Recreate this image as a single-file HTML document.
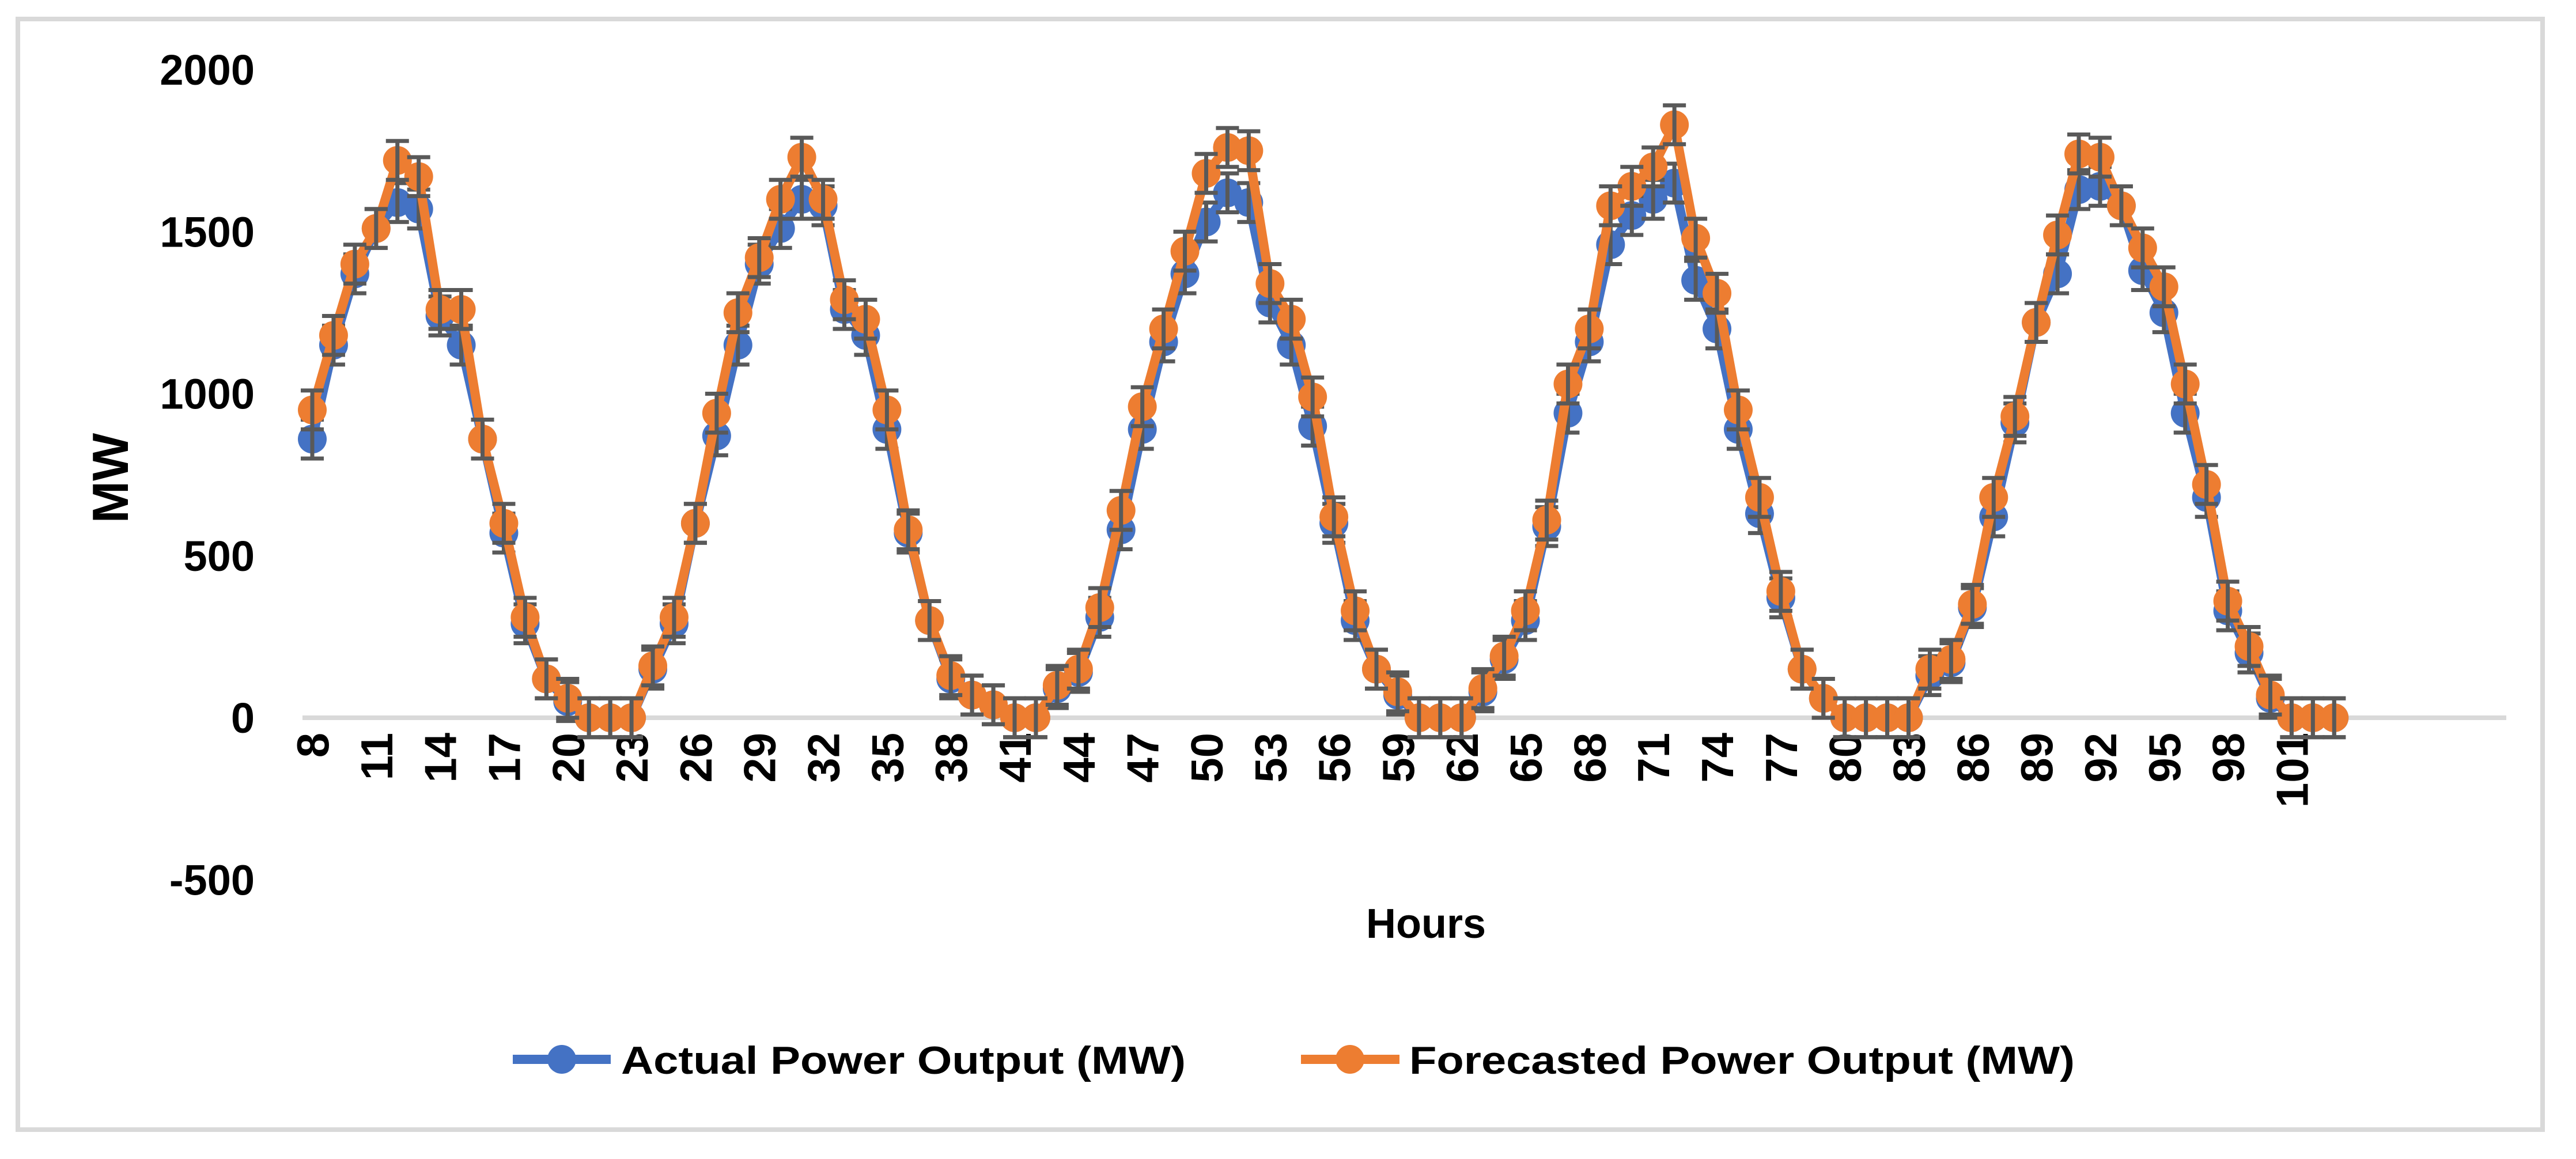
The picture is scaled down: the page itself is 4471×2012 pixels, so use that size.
<!DOCTYPE html>
<html><head><meta charset="utf-8"><style>
html,body{margin:0;padding:0;background:#fff}
svg{display:block}
text{font-family:"Liberation Sans",sans-serif;font-weight:bold;fill:#000}
</style></head><body>
<svg id="chart" width="4471" height="2012" viewBox="0 0 4471 2012" xmlns="http://www.w3.org/2000/svg">
<rect x="31" y="33" width="4382" height="1928" fill="#fff" stroke="#d9d9d9" stroke-width="8"/>
<line x1="525" y1="1246" x2="4350" y2="1246" stroke="#d9d9d9" stroke-width="8"/>
<g id="yticks"></g>
<g id="xticks"></g>
<g id="series"></g>
<text transform="translate(222,830) rotate(-90)" text-anchor="middle" font-size="88">MW</text>
<text x="2475" y="1628" text-anchor="middle" font-size="72">Hours</text>
<g>
<g>
<line x1="890" y1="1839" x2="1060" y2="1839" stroke="#4472c4" stroke-width="16"/>
<circle cx="975" cy="1839" r="25" fill="#4472c4"/>
<text x="1078" y="1864" font-size="68" textLength="980" lengthAdjust="spacingAndGlyphs">Actual Power Output (MW)</text>
</g>
<g>
<line x1="2258" y1="1839" x2="2429" y2="1839" stroke="#ed7d31" stroke-width="16"/>
<circle cx="2343" cy="1839" r="25" fill="#ed7d31"/>
<text x="2446" y="1864" font-size="68" textLength="1155" lengthAdjust="spacingAndGlyphs">Forecasted Power Output (MW)</text>
</g>
</g>
</svg>
<script>
const hours = [];
for (let h = 8; h <= 103; h++) hours.push(h);
const actualMW = [860,1150,1370,1510,1590,1570,1240,1150,860,570,290,120,50,0,0,0,150,290,600,870,1150,1400,1510,1600,1580,1260,1180,890,570,300,120,70,40,0,0,90,140,310,580,890,1160,1370,1530,1620,1590,1280,1150,900,600,300,150,70,0,0,0,80,180,300,590,940,1160,1460,1550,1600,1650,1350,1200,890,630,370,150,60,0,0,0,0,130,170,340,620,910,1220,1370,1630,1640,1580,1380,1250,940,680,330,200,60,0,0,0];
const forecastMW = [950,1180,1400,1510,1720,1670,1260,1260,860,600,310,120,60,0,0,0,160,310,600,940,1250,1420,1600,1730,1600,1290,1230,950,580,300,130,70,40,0,0,100,150,340,640,960,1200,1440,1680,1760,1750,1340,1230,990,620,330,150,80,0,0,0,90,190,330,610,1030,1200,1580,1640,1700,1830,1480,1310,950,680,390,150,60,0,0,0,0,150,180,350,680,930,1220,1490,1740,1730,1580,1450,1330,1030,720,360,220,70,0,0,0];
const yTickValues = [-500,0,500,1000,1500,2000];
const errorMW = 60;

const NS = "http://www.w3.org/2000/svg";
const X = h => 542 + (h - 8) * 36.94;
const Y = v => 1246 - v * 0.5625;
function mk(tag, attrs, parent) {
  const e = document.createElementNS(NS, tag);
  for (const k in attrs) e.setAttribute(k, attrs[k]);
  parent.appendChild(e);
  return e;
}
const yt = document.getElementById('yticks');
yTickValues.forEach(v => {
  const t = mk('text', {x: 442, y: Y(v) + 26, 'text-anchor': 'end', 'font-size': 74}, yt);
  
  
  t.textContent = v;
});
const xt = document.getElementById('xticks');
hours.forEach(h => {
  if ((h - 8) % 3 !== 0) return;
  const t = mk('text', {transform: `translate(${X(h) + 28},1272) rotate(-90)`, 'text-anchor': 'end', 'font-size': 78}, xt);
  
  
  t.textContent = h;
});
const sg = document.getElementById('series');
function drawSeries(vals, color, name) {
  const g = mk('g', {}, sg);
  
  
  const pts = vals.map((v, i) => X(hours[i]) + ',' + Y(v)).join(' ');
  const pl = mk('polyline', {points: pts, fill: 'none', stroke: color, 'stroke-width': 16, 'stroke-linejoin': 'round'}, g);
  
  
  vals.forEach((v, i) => {
    const c = mk('circle', {cx: X(hours[i]), cy: Y(v), r: 25, fill: color}, g);
    
    
  });
  vals.forEach((v, i) => {
    const x = X(hours[i]), y1 = Y(v + errorMW), y2 = Y(v - errorMW);
    const e = mk('path', {d: `M${x},${y1}V${y2}M${x-20},${y1}H${x+20}M${x-20},${y2}H${x+20}`, stroke: '#595959', 'stroke-width': 7, fill: 'none'}, g);
    
    
  });
}
drawSeries(actualMW, '#4472c4', 'actual-series');
drawSeries(forecastMW, '#ed7d31', 'forecast-series');
</script>
</body></html>
